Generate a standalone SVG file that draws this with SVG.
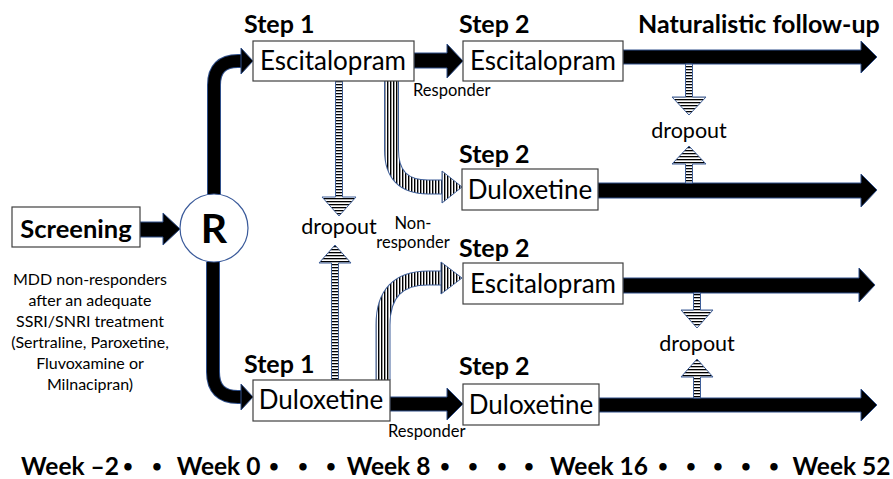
<svg xmlns="http://www.w3.org/2000/svg" width="893" height="479" viewBox="0 0 893 479">
<style>
text{font-family:Lato,"Noto Sans","Liberation Sans","Noto Sans CJK JP",sans-serif;fill:#000}
.b{font-weight:bold}
.step{font-size:25px;font-weight:bold}
.drug{font-size:26px;text-anchor:middle}
.small{font-size:16.5px}
.drop{font-size:21.5px;text-anchor:middle}
.mdd{font-size:16px;text-anchor:middle}
.box{fill:#fff;stroke:#404040;stroke-width:1.2}
.blk{fill:#000;stroke:#2f4f8a;stroke-width:1}
.hs{fill:url(#hstripe);stroke:#3f5f99;stroke-width:1}
.vs{fill:url(#vstripe);stroke:#3f5f99;stroke-width:1}
.week{font-size:24.5px;font-weight:bold;text-anchor:middle}
.dot{font-size:17px}
</style>
<defs>
<pattern id="hstripe" width="4" height="3" patternUnits="userSpaceOnUse"><rect width="4" height="3" fill="#fff"/><rect width="4" height="1.3" fill="#000"/></pattern>
<pattern id="vstripe" width="3" height="4" patternUnits="userSpaceOnUse"><rect width="3" height="4" fill="#fff"/><rect width="1.4" height="4" fill="#000"/></pattern>
</defs>
<rect width="893" height="479" fill="#fff"/>

<g id="connectors">
  <!-- Screening to R -->
  <polygon class="blk" points="140,222 163,222 163,213 180,229 163,245 163,237 140,237"/>
  <!-- R to Step1 Escitalopram -->
  <path d="M214,195 V85 Q214,61 238,61 H243" fill="none" stroke="#2f4f8a" stroke-width="14"/>
  <path d="M214,195 V85 Q214,61 238,61 H243" fill="none" stroke="#000" stroke-width="12"/>
  <polygon class="blk" points="241,48 253,61 241,74"/>
  <!-- R to Step1 Duloxetine -->
  <path d="M213,262 V372 Q213,397 238,397 H243" fill="none" stroke="#2f4f8a" stroke-width="14"/>
  <path d="M213,262 V372 Q213,397 238,397 H243" fill="none" stroke="#000" stroke-width="12"/>
  <polygon class="blk" points="241,384 253,397 241,410"/>
  <!-- Responder arrows -->
  <polygon class="blk" points="414,53 447,53 447,44 463,61 447,78 447,68 414,68"/>
  <polygon class="blk" points="390,397 447,397 447,388 463,404 447,420 447,411 390,411"/>
  <!-- Non-responder curved arrows -->
  <path d="M391.5,81 V150 Q391.5,187 428,187 H443" fill="none" stroke="#3f5f99" stroke-width="15"/>
  <path d="M391.5,81 V150 Q391.5,187 428,187 H443" fill="none" stroke="url(#vstripe)" stroke-width="13"/>
  <polygon class="vs" points="442,171 462,187 442,203"/>
  <path d="M383,380 V325 Q383,278 428,278 H442" fill="none" stroke="#3f5f99" stroke-width="15"/>
  <path d="M383,380 V325 Q383,278 428,278 H442" fill="none" stroke="url(#vstripe)" stroke-width="13"/>
  <polygon class="vs" points="441,262 462,278 441,294"/>
  <!-- Follow-up arrows -->
  <polygon class="blk" points="623,50 861,50 861,41 877,57 861,73 861,64 623,64"/>
  <polygon class="blk" points="598,183 861,183 861,174 877,190 861,207 861,198 598,198"/>
  <polygon class="blk" points="623,278 859,278 859,268 875,285 859,302 859,293 623,293"/>
  <polygon class="blk" points="599,398 861,398 861,389 877,405 861,421 861,412 599,412"/>
  <!-- Dropout arrows -->
  <polygon class="hs" points="335.5,81 342.5,81 342.5,197 356,197 339,216 322,197 335.5,197"/>
  <polygon class="hs" points="331.5,380 338.5,380 338.5,263 351,263 335,245 319,263 331.5,263"/>
  <polygon class="hs" points="685.5,64 692.5,64 692.5,97 706,97 689,115 672,97 685.5,97"/>
  <polygon class="hs" points="685.5,183 692.5,183 692.5,164 706,164 689,146 672,164 685.5,164"/>
  <polygon class="hs" points="693.5,293 700.5,293 700.5,310 713,310 697,328 681,310 693.5,310"/>
  <polygon class="hs" points="693.5,398 700.5,398 700.5,377 713,377 697,359 681,377 693.5,377"/>
</g>

<g id="screening">
  <rect class="box" x="12" y="207" width="128" height="40"/>
  <text class="b" x="76" y="238" font-size="25.5" text-anchor="middle">Screening</text>
</g>
<g id="randomization">
  <circle cx="214" cy="228" r="34" fill="#fff" stroke="#3a5a9a" stroke-width="1.2"/>
  <text class="b" x="214" y="243" font-size="41" text-anchor="middle">R</text>
</g>
<g id="population">
  <text class="mdd" x="90" y="285">MDD non-responders</text>
  <text class="mdd" x="90" y="306">after an adequate</text>
  <text class="mdd" x="90" y="327">SSRI/SNRI treatment</text>
  <text class="mdd" x="90" y="348">(Sertraline, Paroxetine,</text>
  <text class="mdd" x="90" y="369">Fluvoxamine or</text>
  <text class="mdd" x="90" y="390">Milnacipran)</text>
</g>
<g id="step1-escitalopram">
  <text class="step" x="244" y="33">Step 1</text>
  <rect class="box" x="253" y="41" width="161" height="40"/>
  <text class="drug" x="333" y="70">Escitalopram</text>
</g>
<g id="step1-duloxetine">
  <text class="step" x="244" y="373">Step 1</text>
  <rect class="box" x="253" y="380" width="137" height="41"/>
  <text class="drug" x="321" y="409">Duloxetine</text>
</g>
<g id="step2-escitalopram-a">
  <text class="step" x="459" y="33">Step 2</text>
  <rect class="box" x="463" y="41" width="160" height="40"/>
  <text class="drug" x="543" y="70">Escitalopram</text>
</g>
<g id="step2-duloxetine-a">
  <text class="step" x="459" y="163">Step 2</text>
  <rect class="box" x="462" y="169" width="136" height="41"/>
  <text class="drug" x="530" y="199">Duloxetine</text>
</g>
<g id="step2-escitalopram-b">
  <text class="step" x="459" y="257">Step 2</text>
  <rect class="box" x="463" y="263" width="160" height="41"/>
  <text class="drug" x="543" y="293">Escitalopram</text>
</g>
<g id="step2-duloxetine-b">
  <text class="step" x="459" y="375">Step 2</text>
  <rect class="box" x="463" y="384" width="136" height="41"/>
  <text class="drug" x="531" y="414">Duloxetine</text>
</g>
<g id="followup">
  <text class="step" x="638" y="33">Naturalistic follow-up</text>
</g>
<g id="labels">
  <text class="small" x="413" y="96">Responder</text>
  <text class="small" x="388" y="437">Responder</text>
  <text class="small" x="413" y="229" text-anchor="middle">Non-</text>
  <text class="small" x="413" y="248" text-anchor="middle">responder</text>
  <text class="drop" x="339" y="234">dropout</text>
  <text class="drop" x="689" y="138">dropout</text>
  <text class="drop" x="697" y="351">dropout</text>
</g>
<g id="timeline">
  <text class="week" y="475"><tspan x="70">Week –2</tspan><tspan class="dot" x="128" y="472">•</tspan><tspan class="dot" x="157" y="472">•</tspan><tspan x="218.5" y="475">Week 0</tspan><tspan class="dot" x="274" y="472">•</tspan><tspan class="dot" x="303" y="472">•</tspan><tspan class="dot" x="331" y="472">•</tspan><tspan x="388.5" y="475">Week 8</tspan><tspan class="dot" x="445" y="472">•</tspan><tspan class="dot" x="473" y="472">•</tspan><tspan class="dot" x="502" y="472">•</tspan><tspan class="dot" x="529" y="472">•</tspan><tspan x="599" y="475">Week 16</tspan><tspan class="dot" x="663" y="472">•</tspan><tspan class="dot" x="691" y="472">•</tspan><tspan class="dot" x="718" y="472">•</tspan><tspan class="dot" x="746" y="472">•</tspan><tspan class="dot" x="774" y="472">•</tspan><tspan x="841.5" y="475">Week 52</tspan></text>
</g>
</svg>
